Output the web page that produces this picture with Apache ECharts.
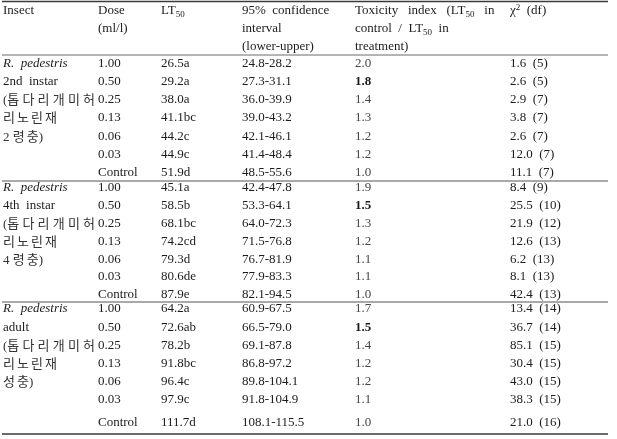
<!DOCTYPE html>
<html><head><meta charset="utf-8">
<script src="https://cdn.jsdelivr.net/npm/echarts@6/dist/echarts.min.js"></script>
<style>html,body{margin:0;padding:0;background:#fff}#c{width:617px;height:439px}</style>
</head><body><div id="c"></div>
<script>
// ---------- data ----------
const headers = [
  ['Insect'],
  ['Dose', '(ml/l)'],
  ['LT{s|50}'],
  ['95%  confidence', 'interval', '(lower-upper)'],
  ['Toxicity   index   (LT{s|50}   in', 'control  /  LT{s|50}  in', 'treatment)'],
  ['{a|χ}{p|2}  (df)']
];
const doses = ['1.00', '0.50', '0.25', '0.13', '0.06', '0.03', 'Control'];
const insect1 = ['R.  pedestris', '2nd  instar', '(톱다리개미허', '리노린재', '2 령충)'];
const insect2 = ['R.  pedestris', '4th  instar', '(톱다리개미허', '리노린재', '4 령충)'];
const insect3 = ['R.  pedestris', 'adult', '(톱다리개미허', '리노린재', '성충)'];
const lt1 = [26.5, 29.2, 38.0, 41.1, 44.2, 44.9, 51.9];
const lt2 = [45.1, 58.5, 68.1, 74.2, 79.3, 80.6, 87.9];
const lt3 = [64.2, 72.6, 78.2, 91.8, 96.4, 97.9, 111.7];
const let1 = ['a', 'a', 'a', 'bc', 'c', 'c', 'd'];
const let2 = ['a', 'b', 'bc', 'cd', 'd', 'de', 'e'];
const let3 = ['a', 'ab', 'b', 'bc', 'c', 'c', 'd'];
const ciLo1 = [24.8, 27.3, 36.0, 39.0, 42.1, 41.4, 48.5];
const ciHi1 = [28.2, 31.1, 39.9, 43.2, 46.1, 48.4, 55.6];
const ciLo2 = [42.4, 53.3, 64.0, 71.5, 76.7, 77.9, 82.1];
const ciHi2 = [47.8, 64.1, 72.3, 76.8, 81.9, 83.3, 94.5];
const ciLo3 = [60.9, 66.5, 69.1, 86.8, 89.8, 91.8, 108.1];
const ciHi3 = [67.5, 79.0, 87.8, 97.2, 104.1, 104.9, 115.5];
const tox1 = [2.0, 1.8, 1.4, 1.3, 1.2, 1.2, 1.0];
const tox2 = [1.9, 1.5, 1.3, 1.2, 1.1, 1.1, 1.0];
const tox3 = [1.7, 1.5, 1.4, 1.2, 1.2, 1.1, 1.0];
const toxBold = [1, 1, 1]; // row index printed in bold per group
const chi1 = [1.6, 2.6, 2.9, 3.8, 2.6, 12.0, 11.1];
const chi2 = [8.4, 25.5, 21.9, 12.6, 6.2, 8.1, 42.4];
const chi3 = [13.4, 36.7, 85.1, 30.4, 43.0, 38.3, 21.0];
const df1 = [5, 5, 7, 7, 7, 7, 7];
const df2 = [9, 10, 12, 13, 13, 13, 13];
const df3 = [14, 14, 15, 15, 15, 15, 16];

// ---------- layout ----------
const colX = [3, 98, 161, 242, 355, 510];
const headY = [11, 29, 47];
const groupTop = [63.5, 187.5, 309];
const rowStep = [18.15, 17.9, 18.15];
const lastGap = [0, 0, 5];
const rules = [[1.5, 1.6, '#3a3a3a'], [55, 1, '#6a6a6a'], [181, 1.2, '#555'], [302, 1.2, '#555'], [434, 1.6, '#3a3a3a']];
const ruleX = [2, 608];
const justifyW = 92;
const koTrack = 2;
const koSize = 13;
const koDy = 1;
const SERIF = '"Liberation Serif", "Times New Roman", "Noto Sans CJK KR", serif';
const INK = '#1c1c1c';

function rowY(g, i) { return groupTop[g] + i * rowStep[g] + (i === 6 ? lastGap[g] : 0); }

const groups = [
  {ins: insect1, lt: lt1, le: let1, lo: ciLo1, hi: ciHi1, tox: tox1, chi: chi1, df: df1},
  {ins: insect2, lt: lt2, le: let2, lo: ciLo2, hi: ciHi2, tox: tox2, chi: chi2, df: df2},
  {ins: insect3, lt: lt3, le: let3, lo: ciLo3, hi: ciHi3, tox: tox3, chi: chi3, df: df3}
];

const cells = [];
headers.forEach((lines, c) => lines.forEach((t, k) => cells.push({col: c, y: headY[k], text: t})));
groups.forEach((G, g) => {
  G.ins.forEach((t, i) => cells.push({col: 0, y: rowY(g, i), text: t,
    italic: i === 0, korean: /[\uAC00-\uD7A3]/.test(t), justify: t.indexOf('(톱') === 0}));
  doses.forEach((d, i) => {
    const y = rowY(g, i);
    cells.push({col: 1, y, text: d});
    cells.push({col: 2, y, text: G.lt[i].toFixed(1) + G.le[i]});
    cells.push({col: 3, y, text: G.lo[i].toFixed(1) + '-' + G.hi[i].toFixed(1)});
    cells.push({col: 4, y, text: G.tox[i].toFixed(1), bold: i === toxBold[g], grey: i !== toxBold[g]});
    cells.push({col: 5, y, text: G.chi[i].toFixed(1) + '  (' + G.df[i] + ')'});
  });
});

const RICH = {
  a: {fontFamily: SERIF, fontSize: 13, lineHeight: 16, color: INK},
  s: {fontFamily: SERIF, fontSize: 9, lineHeight: 16, verticalAlign: 'bottom', color: INK},
  p: {fontFamily: SERIF, fontSize: 9, lineHeight: 16, verticalAlign: 'top', color: INK}
};

const mctx = document.createElement('canvas').getContext('2d');

function textEl(x, y, t, c, size, fill) {
  return {type: 'text', x: x, y: y, style: {
    text: t, rich: RICH, fontFamily: SERIF, fontSize: size || 13,
    fontStyle: c.italic ? 'italic' : 'normal', fontWeight: c.bold ? 'bold' : 'normal',
    fill: fill || (c.grey ? '#474747' : INK), align: 'left', verticalAlign: 'middle'}};
}

// split Korean text into units; brackets stick to neighbours, spaces stick to the previous unit
function koUnits(t) {
  const units = [];
  let pre = '';
  Array.from(t).forEach(ch => {
    if (ch === '(') { pre += ch; return; }
    if ((ch === ')' || ch === ' ') && units.length) { units[units.length - 1] += ch; return; }
    units.push(pre + ch); pre = '';
  });
  return units;
}

function renderCell(params, api) {
  const c = cells[params.dataIndex];
  const p = api.coord([api.value(0), api.value(1)]);
  if (c.korean) {
    mctx.font = koSize + 'px ' + SERIF;
    const units = koUnits(c.text);
    const ws = units.map(u => mctx.measureText(u).width);
    const sum = ws.reduce((a, b) => a + b, 0);
    const gap = c.justify ? (justifyW - sum) / (units.length - 1) : koTrack;
    let x = p[0];
    const children = units.map((u, k) => {
      const el = textEl(x, p[1] + koDy, u, c, koSize, '#333');
      x += ws[k] + (/[\uAC00-\uD7A3]/.test(u) ? gap : 0); return el;
    });
    return {type: 'group', children};
  }
  return textEl(p[0], p[1], c.text, c);
}

function renderRule(params, api) {
  const a = api.coord([api.value(0), api.value(2)]);
  const b = api.coord([api.value(1), api.value(2)]);
  const r = rules[params.dataIndex];
  return {type: 'line', shape: {x1: a[0], y1: a[1], x2: b[0], y2: b[1]},
    style: {stroke: r[2], lineWidth: r[1]}};
}

const chart = echarts.init(document.getElementById('c'), null, {renderer: 'canvas'});
chart.setOption({
  animation: false,
  backgroundColor: '#fff',
  grid: {left: 0, right: 0, top: 0, bottom: 0},
  xAxis: {type: 'value', min: 0, max: 617, show: false},
  yAxis: {type: 'value', min: 0, max: 439, inverse: true, show: false},
  series: [
    {type: 'custom', renderItem: renderRule, silent: true,
     data: rules.map(r => [ruleX[0], ruleX[1], r[0]])},
    {type: 'custom', renderItem: renderCell, silent: true,
     data: cells.map(c => [colX[c.col], c.y])}
  ]
});
</script></body></html>
